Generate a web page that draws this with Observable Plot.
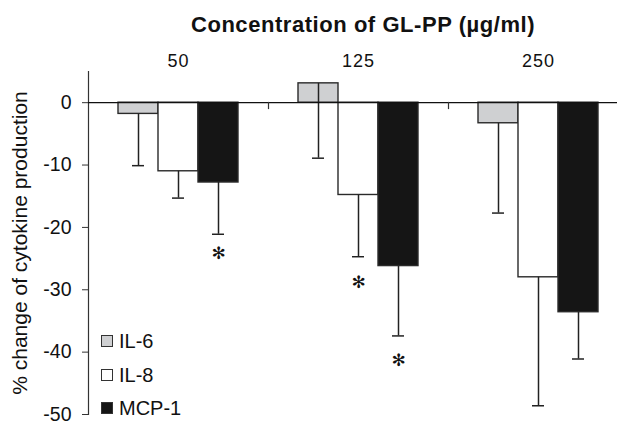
<!DOCTYPE html>
<html>
<head>
<meta charset="utf-8">
<script src="https://cdn.jsdelivr.net/npm/d3@7"></script>
<script src="https://cdn.jsdelivr.net/npm/@observablehq/plot@0.6"></script>
<style>
  html, body { margin: 0; padding: 0; background: #fff; overflow: hidden; }
  #wrap { position: relative; width: 617px; height: 421px; font-family: "Liberation Sans", Arial, Helvetica, sans-serif; color: #111; }
  #title { position: absolute; left: 0; top: 14px; width: 726px; text-align: center; font-size: 22px; font-weight: bold; line-height: 22px; letter-spacing: 0.55px; white-space: nowrap; }
  #chart { position: absolute; left: 0; top: 40px; }
  .leg { position: absolute; left: 101px; font-size: 20px; line-height: 20px; display: flex; align-items: center; }
  .leg .sw { width: 10px; height: 10px; border: 1.3px solid #333; margin-right: 6px; box-sizing: content-box; }
</style>
</head>
<body>
<div id="wrap">
  <div id="title">Concentration of GL-PP (µg/ml)</div>
  <div id="chart"></div>
</div>
<script>
const concentrations = ["50", "125", "250"];
const cytokines = ["IL-6", "IL-8", "MCP-1"];
const il6Mean = [-1.8, 3.1, -3.3];
const il6SE = [8.3, 12.0, 14.4];
const il8Mean = [-11.0, -14.8, -28.0];
const il8SE = [4.3, 9.9, 20.6];
const mcp1Mean = [-12.8, -26.2, -33.6];
const mcp1SE = [8.3, 11.2, 7.5];
const fills = ["#cfd0d2", "#ffffff", "#151515"];
const yTicks = [0, -10, -20, -30, -40, -50];
const starConc = ["50", "125", "125"];
const starCyto = ["MCP-1", "IL-8", "MCP-1"];
const starY = [-24.2, -28.8, -41.3];
const legendTop = [331, 365, 398];

const means = [il6Mean, il8Mean, mcp1Mean];
const ses = [il6SE, il8SE, mcp1SE];
const rows = [];
cytokines.forEach((c, i) => concentrations.forEach((conc, j) => {
  rows.push({cytokine: c, conc, value: means[i][j], lo: means[i][j] - ses[i][j]});
}));
const stars = starConc.map((conc, i) => ({conc, cytokine: starCyto[i], y: starY[i], t: "✻"}));

const chart = Plot.plot({
  width: 617,
  height: 381,
  marginTop: 31,
  marginBottom: 7,
  marginLeft: 87,
  marginRight: -12,
  style: {fontFamily: "'Liberation Sans', Arial, Helvetica, sans-serif", color: "#111", background: "transparent"},
  fx: {domain: concentrations, padding: 0},
  x: {domain: cytokines, paddingInner: 0, paddingOuter: 0.7},
  y: {domain: [-50, 5]},
  color: {domain: cytokines, range: fills},
  marks: [
    Plot.axisFx({anchor: "top", label: null, tickSize: 0, tickPadding: 5}),
    Plot.axisX({ticks: [], label: null, tickSize: 0}),
    Plot.axisY({ticks: yTicks, tickSize: 6, tickPadding: 11, stroke: "#333",
      tickFormat: d => String(d),
      label: "% change of cytokine production", labelAnchor: "center", labelArrow: false, labelOffset: 76}),
    Plot.frame({anchor: "left", facetAnchor: "left", stroke: "#333", strokeWidth: 1.2}),
    Plot.barY(rows, {fx: "conc", x: "cytokine", y: "value", fill: "cytokine", stroke: "#2a2a2a", strokeWidth: 1.4}),
    Plot.ruleX(rows, {fx: "conc", x: "cytokine", y1: "value", y2: "lo", stroke: "#222", strokeWidth: 1.5}),
    Plot.tickY(rows, {fx: "conc", x: "cytokine", y: "lo", stroke: "#222", strokeWidth: 1.5, insetLeft: 14, insetRight: 14}),
    Plot.ruleY([0], {stroke: "#111", strokeWidth: 1.3}),
    Plot.frame({anchor: "right", stroke: "#333", strokeWidth: 1.2, insetTop: 31, insetBottom: 306}),
    Plot.text(stars, {fx: "conc", x: "cytokine", y: "y", text: "t", fontSize: 17, fontFamily: "DejaVu Sans", fill: "#111"})
  ]
});
chart.querySelectorAll("text").forEach(t => {
  const s = t.textContent;
  if (s === "% change of cytokine production") {
    t.style.fontSize = "21px";
  } else if (concentrations.includes(s)) {
    t.style.fontSize = "18px";
    t.style.letterSpacing = "1px";
  } else if (yTicks.map(String).includes(s)) {
    t.style.fontSize = "19.5px";
  }
});
document.getElementById("chart").appendChild(chart);

const wrap = document.getElementById("wrap");
cytokines.forEach((c, i) => {
  const d = document.createElement("div");
  d.className = "leg";
  d.style.top = legendTop[i] + "px";
  const sw = document.createElement("span");
  sw.className = "sw";
  sw.style.background = fills[i];
  d.appendChild(sw);
  d.appendChild(document.createTextNode(c));
  wrap.appendChild(d);
});
</script>
</body>
</html>
